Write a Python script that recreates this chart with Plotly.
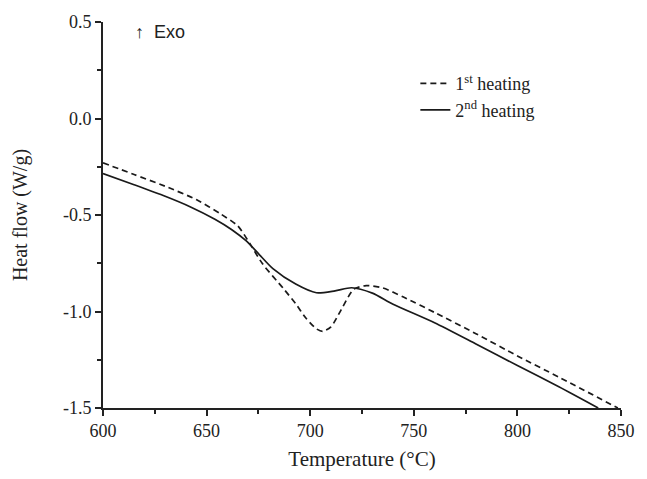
import plotly.graph_objects as go

# 1st heating (dashed)
temp1 = [600, 615, 630, 645, 657, 665, 671, 677, 687, 693, 698, 703, 706, 710, 715, 721, 727, 735, 745, 760, 780, 800, 820, 848.5]
flow1 = [-0.23, -0.29, -0.351, -0.42, -0.496, -0.556, -0.65, -0.753, -0.88, -0.96, -1.035, -1.09, -1.103, -1.08, -0.99, -0.885, -0.866, -0.878, -0.925, -1.005, -1.115, -1.23, -1.34, -1.5]

# 2nd heating (solid)
temp2 = [600, 615, 630, 642, 654, 662, 669, 675, 682, 693, 703, 712, 720, 730, 740, 760, 780, 800, 820, 839]
flow2 = [-0.285, -0.343, -0.403, -0.457, -0.522, -0.575, -0.633, -0.70, -0.778, -0.858, -0.903, -0.893, -0.877, -0.905, -0.962, -1.058, -1.168, -1.28, -1.39, -1.5]

x_ticks = [600, 650, 700, 750, 800, 850]
y_ticks = [0.5, 0.0, -0.5, -1.0, -1.5]
y_tick_text = ["0.5", "0.0", "-0.5", "-1.0", "-1.5"]

fig = go.Figure()
fig.add_trace(go.Scatter(
    x=temp1, y=flow1, mode="lines", name="1<sup>st</sup> heating",
    line=dict(color="#1a1a1a", width=1.7, dash="6px,4px", shape="spline", smoothing=0.7),
))
fig.add_trace(go.Scatter(
    x=temp2, y=flow2, mode="lines", name="2<sup>nd</sup> heating",
    line=dict(color="#1a1a1a", width=1.7, shape="spline", smoothing=0.7),
))

serif = "Liberation Serif, Times New Roman, serif"

fig.update_layout(
    width=647, height=479,
    margin=dict(l=103, r=14, t=21, b=68),
    paper_bgcolor="white", plot_bgcolor="white",
    font=dict(family=serif, size=18, color="#222"),
    showlegend=True,
    legend=dict(
        x=0.603, y=0.888, xanchor="left", yanchor="top",
        bgcolor="rgba(0,0,0,0)", font=dict(family=serif, size=18, color="#222"),
        tracegroupgap=0,
    ),
    xaxis=dict(
        range=[600, 850], tickvals=x_ticks, ticks="outside", ticklen=6, tickwidth=1.5,
        tickcolor="#222", showline=True, linecolor="#222", linewidth=1.6,
        showgrid=False, zeroline=False, mirror=False,
        minor=dict(ticks="outside", ticklen=4, tickwidth=1.5, tickcolor="#222", dtick=25, tick0=600, showgrid=False),
        title=dict(text="Temperature (°C)", font=dict(family=serif, size=21), standoff=11),
        tickfont=dict(family=serif, size=18),
    ),
    yaxis=dict(
        range=[-1.5, 0.5], tickvals=y_ticks, ticktext=y_tick_text, ticks="outside", ticklen=6,
        tickwidth=1.5, tickcolor="#222", showline=True, linecolor="#222", linewidth=1.6,
        showgrid=False, zeroline=False, mirror=False,
        minor=dict(ticks="outside", ticklen=4, tickwidth=1.5, tickcolor="#222", dtick=0.25, tick0=0, showgrid=False),
        title=dict(text="Heat flow (W/g)", font=dict(family=serif, size=20), standoff=30),
        tickfont=dict(family=serif, size=18),
    ),
    annotations=[dict(
        text="↑  Exo", xref="paper", yref="paper", x=0.058, y=0.975,
        xanchor="left", yanchor="middle", showarrow=False,
        font=dict(family="Liberation Sans, Arial, sans-serif", size=18, color="#222"),
    )],
)

fig.write_html("out.html")
